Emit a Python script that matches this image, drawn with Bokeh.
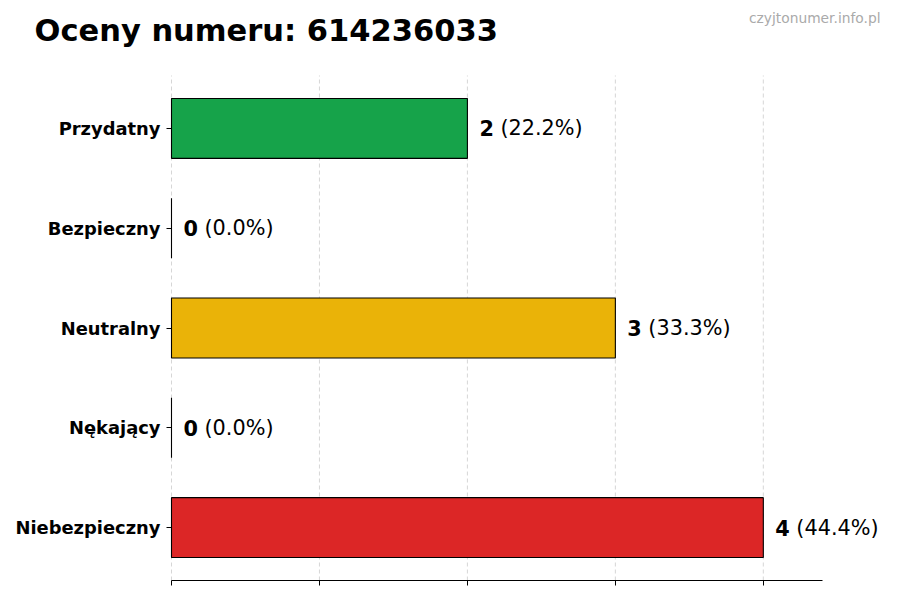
from bokeh.plotting import figure
from bokeh.models import ColumnDataSource, Range1d, FixedTicker, Label
from bokeh.embed import file_html
from bokeh.resources import INLINE
from bokeh.core.properties import value

# Data (bottom to top)
categories = ["Niebezpieczny", "Nękający", "Neutralny", "Bezpieczny", "Przydatny"]
counts = [4, 0, 3, 0, 2]
percents = ["44.4%", "0.0%", "33.3%", "0.0%", "22.2%"]
colors = ["#dc2626", "#eab308", "#eab308", "#16a34a", "#16a34a"]
x_ticks = [0, 1, 2, 3, 4]
x_axis_max = 4.4
y_axis_lo, y_axis_hi = -0.53, 4.53
title_text = "Oceny numeru: 614236033"
watermark_text = "czyjtonumer.info.pl"

ypos = list(range(len(categories)))
src = ColumnDataSource(dict(
    y=ypos,
    cnt=counts,
    num=[str(c) for c in counts],
    pct=["(" + p + ")" for p in percents],
    color=colors,
))

FONT = "DejaVu Sans"
W, H = 892, 592
AX_LEFT, AX_RIGHT = 171, 822      # pixel span of the axes box
AX_TOP, AX_BOTTOM = 75, 580
sx = (AX_RIGHT - AX_LEFT) / x_axis_max
sy = (AX_BOTTOM - AX_TOP) / (y_axis_hi - y_axis_lo)

p = figure(
    frame_width=W, frame_height=H,
    min_border_left=0, min_border_right=0, min_border_top=0, min_border_bottom=0,
    x_range=Range1d(-AX_LEFT / sx, (W - AX_LEFT) / sx),
    y_range=Range1d(y_axis_lo - (H - AX_BOTTOM) / sy, y_axis_hi + AX_TOP / sy),
    output_backend="svg", toolbar_location=None,
    background_fill_color="white", border_fill_color="white",
)
p.outline_line_color = None
p.xgrid.visible = False
p.ygrid.visible = False

# vertical dashed grid lines at the x ticks, within the axes box
p.segment(x0=x_ticks, y0=[y_axis_lo] * len(x_ticks), x1=x_ticks, y1=[y_axis_hi] * len(x_ticks),
          line_color="#cccccc", line_dash="4 3", line_width=0.8)

p.hbar(y="y", left=0, right="cnt", height=0.6, source=src,
       fill_color="color", line_color="black", line_width=1.1)

p.text(x="cnt", y="y", text="num", source=src, x_offset=12,
       text_align="left", text_baseline="middle",
       text_font=value(FONT), text_font_style="bold",
       text_font_size="20.8px", text_color="black")
p.text(x="cnt", y="y", text="pct", source=src, x_offset=33,
       text_align="left", text_baseline="middle",
       text_font=value(FONT), text_font_size="20.8px", text_color="black")

# Y axis fixed at x = 0
p.yaxis.fixed_location = 0
p.yaxis.ticker = FixedTicker(ticks=ypos)
p.yaxis.major_label_overrides = {i: c for i, c in zip(ypos, categories)}
p.yaxis.axis_line_color = None
p.yaxis.major_tick_in = 0
p.yaxis.major_tick_out = 5
p.yaxis.minor_tick_line_color = None
p.yaxis.major_tick_line_color = "black"
p.yaxis.major_label_text_font = FONT
p.yaxis.major_label_text_font_style = "bold"
p.yaxis.major_label_text_font_size = "17.9px"
p.yaxis.major_label_text_color = "black"
p.yaxis.major_label_standoff = 6

# X axis fixed at the bottom of the axes box, no labels
p.xaxis.fixed_location = y_axis_lo
p.xaxis.ticker = FixedTicker(ticks=x_ticks)
p.xaxis.bounds = (0, x_axis_max)
p.xaxis.major_label_overrides = {t: "" for t in x_ticks}
p.xaxis.major_label_text_font_size = "1px"
p.xaxis.major_label_standoff = 0
p.xaxis.major_tick_in = 0
p.xaxis.major_tick_out = 5
p.xaxis.minor_tick_line_color = None
p.xaxis.axis_line_color = "black"
p.xaxis.major_tick_line_color = "black"

# Title and watermark (screen units from the frame's bottom-left)
p.add_layout(Label(x=34, y=H - 30, x_units="screen", y_units="screen",
                   text=title_text, text_font=FONT, text_font_style="bold",
                   text_font_size="30.5px", text_color="black",
                   text_align="left", text_baseline="alphabetic"))
p.add_layout(Label(x=880, y=H - 17, x_units="screen", y_units="screen",
                   text=watermark_text, text_font=FONT,
                   text_font_size="13.8px", text_color="#aaaaaa",
                   text_align="right", text_baseline="alphabetic"))

open("out.html", "w").write(file_html(p, INLINE))
